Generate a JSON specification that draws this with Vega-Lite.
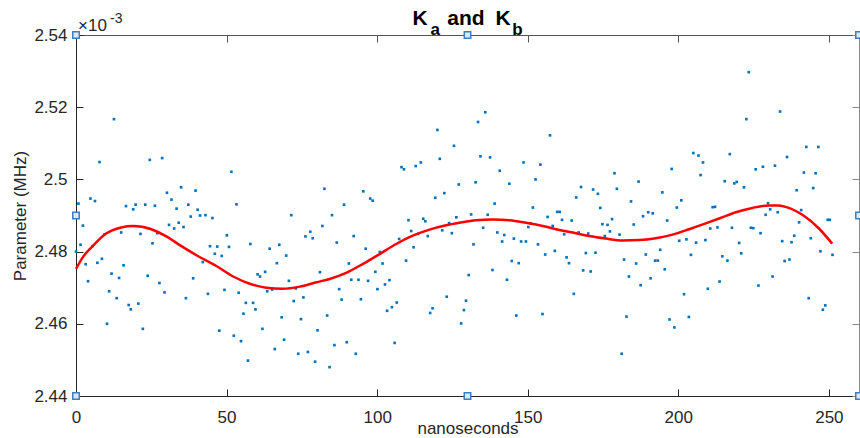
{
  "$schema": "https://vega.github.io/schema/vega-lite/v6.json",
  "width": 783,
  "height": 361,
  "autosize": {"type": "none"},
  "padding": {"left": 76, "top": 35, "right": 1, "bottom": 42},
  "background": "white",
  "config": {
    "view": {"stroke": null},
    "font": "Liberation Sans",
    "axis": {
      "labelFont": "Liberation Sans",
      "titleFont": "Liberation Sans",
      "labelFontSize": 17,
      "titleFontSize": 17,
      "titleFontWeight": "normal",
      "labelColor": "#262626",
      "titleColor": "#262626",
      "domainColor": "#262626",
      "tickColor": "#262626",
      "grid": false,
      "tickSize": -7,
      "domainWidth": 1,
      "tickWidth": 1,
      "labelFlush": false
    }
  },
  "datasets": {
    "obs": [
      {"t":0,"v":2.4800},{"t":0.8,"v":2.4933},{"t":1.5,"v":2.4819},{"t":2.3,"v":2.4872},{"t":3.2,"v":2.4765},{"t":4.0,"v":2.4718},{"t":4.8,"v":2.4947},{"t":5.5,"v":2.4815},{"t":6.3,"v":2.4940},{"t":7.1,"v":2.4769},{"t":7.8,"v":2.5048},{"t":8.6,"v":2.4780},{"t":9.5,"v":2.4848},{"t":10.3,"v":2.4600},{"t":11.0,"v":2.4690},{"t":11.8,"v":2.4739},{"t":12.6,"v":2.5167},{"t":13.5,"v":2.4671},{"t":14.3,"v":2.4727},{"t":15.0,"v":2.4853},{"t":15.8,"v":2.4762},{"t":16.6,"v":2.4926},{"t":17.5,"v":2.4652},{"t":18.2,"v":2.4640},{"t":19.0,"v":2.4917},{"t":19.8,"v":2.4930},{"t":20.7,"v":2.4656},{"t":21.4,"v":2.4849},{"t":22.2,"v":2.4586},{"t":23.0,"v":2.4930},{"t":23.8,"v":2.4733},{"t":24.5,"v":2.5054},{"t":25.4,"v":2.4823},{"t":26.2,"v":2.4927},{"t":27.0,"v":2.4851},{"t":27.7,"v":2.4713},{"t":28.6,"v":2.5059},{"t":29.4,"v":2.4687},{"t":30.2,"v":2.4963},{"t":30.9,"v":2.4874},{"t":31.7,"v":2.4944},{"t":32.6,"v":2.4864},{"t":33.4,"v":2.4919},{"t":34.1,"v":2.4880},{"t":34.9,"v":2.4978},{"t":35.7,"v":2.4868},{"t":36.5,"v":2.4671},{"t":37.3,"v":2.4930},{"t":38.1,"v":2.4897},{"t":38.9,"v":2.4726},{"t":39.7,"v":2.4969},{"t":40.4,"v":2.4916},{"t":41.2,"v":2.4900},
      {"t":42.1,"v":2.4771},{"t":43.0,"v":2.4901},{"t":43.8,"v":2.4683},{"t":44.5,"v":2.4815},{"t":45.3,"v":2.4893},{"t":46.1,"v":2.4794},{"t":46.9,"v":2.4814},{"t":47.6,"v":2.4581},{"t":48.4,"v":2.4788},{"t":49.3,"v":2.4694},{"t":50.1,"v":2.4845},{"t":50.8,"v":2.4813},{"t":51.6,"v":2.5021},{"t":52.4,"v":2.4567},{"t":53.3,"v":2.4931},{"t":54.0,"v":2.4686},{"t":54.8,"v":2.4552},{"t":55.6,"v":2.4628},{"t":56.4,"v":2.4658},{"t":57.1,"v":2.4498},{"t":57.9,"v":2.4821},{"t":58.8,"v":2.4658},{"t":59.6,"v":2.4640},{"t":60.3,"v":2.4737},{"t":61.1,"v":2.4731},{"t":61.9,"v":2.4586},{"t":62.8,"v":2.4744},{"t":63.5,"v":2.4690},{"t":64.3,"v":2.4808},{"t":65.1,"v":2.4695},{"t":66.0,"v":2.4530},{"t":66.7,"v":2.4768},{"t":67.5,"v":2.4819},{"t":68.3,"v":2.4618},{"t":69.1,"v":2.4556},{"t":69.8,"v":2.4789},{"t":70.7,"v":2.4719},{"t":71.5,"v":2.4901},{"t":72.3,"v":2.4663},{"t":73.0,"v":2.4698},{"t":73.8,"v":2.4517},{"t":74.7,"v":2.4613},{"t":75.5,"v":2.4673},{"t":76.2,"v":2.4842},{"t":77.0,"v":2.4522},{"t":77.8,"v":2.4855},{"t":78.6,"v":2.4837},{"t":79.4,"v":2.4495},{"t":80.2,"v":2.4582},{"t":81.0,"v":2.4743},{"t":81.8,"v":2.4871},{"t":82.5,"v":2.4974},{"t":83.4,"v":2.4623},{"t":84.2,"v":2.4480},
      {"t":85.0,"v":2.4901},{"t":85.8,"v":2.4541},{"t":86.6,"v":2.4825},{"t":87.4,"v":2.4696},{"t":88.2,"v":2.4667},{"t":89.0,"v":2.4930},{"t":89.9,"v":2.4549},{"t":90.6,"v":2.4767},{"t":91.4,"v":2.4722},{"t":92.2,"v":2.4843},{"t":92.9,"v":2.4517},{"t":93.8,"v":2.4722},{"t":94.6,"v":2.4668},{"t":95.4,"v":2.4967},{"t":96.2,"v":2.4808},{"t":97.0,"v":2.4719},{"t":97.7,"v":2.4947},{"t":98.5,"v":2.4941},{"t":99.4,"v":2.4744},{"t":100.1,"v":2.4696},{"t":100.9,"v":2.4799},{"t":101.8,"v":2.4767},{"t":102.6,"v":2.4709},{"t":103.3,"v":2.4636},{"t":104.1,"v":2.4721},{"t":104.9,"v":2.4646},{"t":105.8,"v":2.4547},{"t":106.5,"v":2.4659},{"t":107.3,"v":2.4835},{"t":108.1,"v":2.5034},{"t":108.9,"v":2.5028},{"t":109.6,"v":2.4775},{"t":110.4,"v":2.4887},{"t":111.3,"v":2.4857},{"t":112.1,"v":2.4812},{"t":112.8,"v":2.5037},{"t":113.6,"v":2.4849},{"t":114.5,"v":2.5047},{"t":115.3,"v":2.4891},{"t":116.0,"v":2.4884},{"t":116.8,"v":2.4843},{"t":117.6,"v":2.4630},{"t":118.4,"v":2.4643},{"t":119.3,"v":2.4949},{"t":120.0,"v":2.5137},{"t":120.8,"v":2.5057},{"t":121.6,"v":2.4859},{"t":122.3,"v":2.4962},{"t":123.1,"v":2.4675},{"t":123.9,"v":2.4879},{"t":124.8,"v":2.4851},{"t":125.5,"v":2.5093},{"t":126.3,"v":2.4895},{"t":127.1,"v":2.4986},{"t":127.9,"v":2.4601},
      {"t":128.8,"v":2.4638},{"t":129.5,"v":2.4664},{"t":130.4,"v":2.4735},{"t":131.2,"v":2.4903},{"t":132.0,"v":2.4820},{"t":132.7,"v":2.4992},{"t":133.5,"v":2.5159},{"t":134.3,"v":2.5064},{"t":135.2,"v":2.4866},{"t":135.9,"v":2.5186},{"t":136.7,"v":2.4902},{"t":137.5,"v":2.5061},{"t":138.3,"v":2.4749},{"t":139.0,"v":2.4933},{"t":139.9,"v":2.4853},{"t":140.7,"v":2.5024},{"t":141.5,"v":2.4828},{"t":142.2,"v":2.4846},{"t":143.1,"v":2.4722},{"t":143.9,"v":2.4988},{"t":144.7,"v":2.4774},{"t":145.4,"v":2.4836},{"t":146.2,"v":2.4623},{"t":147.0,"v":2.4768},{"t":147.8,"v":2.4828},{"t":148.6,"v":2.5047},{"t":149.4,"v":2.4828},{"t":150.2,"v":2.4868},{"t":151.0,"v":2.4878},{"t":151.7,"v":2.4922},{"t":152.6,"v":2.5000},{"t":153.4,"v":2.4820},{"t":154.2,"v":2.5041},{"t":154.9,"v":2.4627},{"t":155.8,"v":2.4792},{"t":156.6,"v":2.4896},{"t":157.4,"v":2.5122},{"t":158.3,"v":2.4871},{"t":159.0,"v":2.4802},{"t":159.8,"v":2.4910},{"t":160.6,"v":2.4910},{"t":161.4,"v":2.4888},{"t":162.1,"v":2.4848},{"t":162.9,"v":2.4784},{"t":163.7,"v":2.4768},{"t":164.6,"v":2.4886},{"t":165.3,"v":2.4683},{"t":166.1,"v":2.4950},{"t":166.9,"v":2.4853},{"t":167.7,"v":2.4979},{"t":168.4,"v":2.4748},{"t":169.3,"v":2.4796},{"t":170.1,"v":2.4850},{"t":170.9,"v":2.4745},
      {"t":171.7,"v":2.4972},{"t":172.5,"v":2.4797},{"t":173.3,"v":2.4960},{"t":174.1,"v":2.4921},{"t":174.8,"v":2.4876},{"t":175.6,"v":2.4843},{"t":176.5,"v":2.4874},{"t":177.3,"v":2.4856},{"t":178.0,"v":2.4890},{"t":178.8,"v":2.5017},{"t":179.6,"v":2.4974},{"t":180.5,"v":2.4847},{"t":181.2,"v":2.4517},{"t":182.0,"v":2.4778},{"t":182.8,"v":2.4620},{"t":183.6,"v":2.4731},{"t":184.3,"v":2.4939},{"t":185.2,"v":2.4875},{"t":186.0,"v":2.4767},{"t":186.8,"v":2.4994},{"t":187.5,"v":2.4707},{"t":188.3,"v":2.4898},{"t":189.2,"v":2.4792},{"t":190.0,"v":2.4909},{"t":190.8,"v":2.4726},{"t":191.5,"v":2.4906},{"t":192.3,"v":2.4775},{"t":193.2,"v":2.4775},{"t":194.0,"v":2.4805},{"t":194.7,"v":2.4964},{"t":195.5,"v":2.4751},{"t":196.3,"v":2.4886},{"t":197.1,"v":2.4612},{"t":197.8,"v":2.5029},{"t":198.7,"v":2.4590},{"t":199.5,"v":2.4922},{"t":200.3,"v":2.4830},{"t":201.0,"v":2.4942},{"t":201.9,"v":2.4682},{"t":202.7,"v":2.4834},{"t":203.5,"v":2.4619},{"t":204.2,"v":2.4791},{"t":205.0,"v":2.5073},{"t":205.9,"v":2.4825},{"t":206.7,"v":2.5066},{"t":207.4,"v":2.5012},{"t":208.2,"v":2.5047},{"t":209.0,"v":2.4832},{"t":209.8,"v":2.4697},{"t":210.6,"v":2.4864},{"t":211.4,"v":2.4923},{"t":212.2,"v":2.4924},{"t":213.0,"v":2.4867},{"t":213.7,"v":2.4717},
      {"t":214.6,"v":2.4787},{"t":215.4,"v":2.4995},{"t":216.3,"v":2.4775},{"t":217.1,"v":2.5070},{"t":217.8,"v":2.4866},{"t":218.6,"v":2.4989},{"t":219.4,"v":2.4993},{"t":220.2,"v":2.4824},{"t":220.9,"v":2.4795},{"t":221.8,"v":2.4978},{"t":222.6,"v":2.5167},{"t":223.4,"v":2.5297},{"t":224.1,"v":2.4866},{"t":224.9,"v":2.4865},{"t":225.7,"v":2.5028},{"t":226.6,"v":2.4706},{"t":227.3,"v":2.4851},{"t":228.1,"v":2.5035},{"t":229.0,"v":2.4902},{"t":229.8,"v":2.4934},{"t":230.5,"v":2.4917},{"t":231.3,"v":2.4731},{"t":232.1,"v":2.5038},{"t":233.0,"v":2.4909},{"t":233.8,"v":2.5188},{"t":234.5,"v":2.4829},{"t":235.3,"v":2.4774},{"t":236.1,"v":2.5062},{"t":236.9,"v":2.4778},{"t":237.6,"v":2.4826},{"t":238.5,"v":2.4844},{"t":239.3,"v":2.4970},{"t":240.1,"v":2.4881},{"t":240.8,"v":2.4915},{"t":241.7,"v":2.5019},{"t":242.5,"v":2.5090},{"t":243.3,"v":2.4671},{"t":244.0,"v":2.4837},{"t":244.8,"v":2.4976},{"t":245.6,"v":2.5017},{"t":246.5,"v":2.5090},{"t":247.2,"v":2.4801},{"t":248.0,"v":2.4639},{"t":248.8,"v":2.4651},{"t":249.6,"v":2.4888},{"t":250.3,"v":2.4888},{"t":251.2,"v":2.4791}
    ],
    "fit": [
      {"t":0,"v":2.4752},{"t":2.4,"v":2.4786},{"t":5.5,"v":2.4815},{"t":10,"v":2.4850},{"t":15,"v":2.4867},{"t":19,"v":2.4871},{"t":25,"v":2.4862},{"t":30,"v":2.4842},{"t":35,"v":2.4815},{"t":40,"v":2.4790},{"t":46.6,"v":2.4760},{"t":52.2,"v":2.4731},{"t":57.7,"v":2.4711},{"t":63.2,"v":2.4700},{"t":68.7,"v":2.4697},{"t":74.3,"v":2.4703},{"t":79.8,"v":2.4715},{"t":84.2,"v":2.4724},{"t":89.7,"v":2.4741},{"t":95.3,"v":2.4766},{"t":100.8,"v":2.4793},{"t":106.3,"v":2.4821},{"t":111.8,"v":2.4844},{"t":117.4,"v":2.4861},{"t":122.9,"v":2.4873},{"t":127.3,"v":2.4880},{"t":132.8,"v":2.4887},{"t":138.4,"v":2.4889},{"t":143.9,"v":2.4887},{"t":149.4,"v":2.4880},{"t":155,"v":2.4871},{"t":160.5,"v":2.4860},{"t":166,"v":2.4851},{"t":170.4,"v":2.4843},{"t":175.9,"v":2.4836},{"t":181.5,"v":2.4831},{"t":187,"v":2.4832},{"t":192.5,"v":2.4837},{"t":198.1,"v":2.4847},{"t":203.6,"v":2.4862},{"t":209.1,"v":2.4878},{"t":214,"v":2.4893},{"t":219.1,"v":2.4909},{"t":224.6,"v":2.4921},{"t":230.1,"v":2.4928},{"t":232.9,"v":2.4928},{"t":235.6,"v":2.4924},{"t":241.2,"v":2.4902},{"t":246.7,"v":2.4864},{"t":251.1,"v":2.4822}
    ],
    "handles": [
      {"t":0,"v":2.54},{"t":0,"v":2.49},{"t":0,"v":2.44},{"t":130,"v":2.54},{"t":130,"v":2.44},{"t":260,"v":2.54},{"t":260,"v":2.49},{"t":260,"v":2.44}
    ]
  },
  "layer": [
    {
      "data": {"name": "obs"},
      "mark": {"type": "square", "size": 7, "color": "#0072BD", "opacity": 1},
      "encoding": {
        "x": {"field": "t", "type": "quantitative", "scale": {"domain": [0, 260], "nice": false, "zero": false},
              "axis": {"orient": "bottom", "values": [0, 50, 100, 150, 200, 250], "title": "nanoseconds", "labelPadding": 20, "titlePadding": -5}},
        "y": {"field": "v", "type": "quantitative", "scale": {"domain": [2.44, 2.54], "nice": false, "zero": false},
              "axis": {"orient": "left", "values": [2.44, 2.46, 2.48, 2.5, 2.52, 2.54], "format": ".3~g", "title": "Parameter (MHz)", "labelPadding": 16, "titlePadding": 4}}
      }
    },
    {
      "data": {"name": "fit"},
      "mark": {"type": "line", "color": "#FF0000", "strokeWidth": 2.5, "interpolate": "monotone"},
      "encoding": {
        "x": {"field": "t", "type": "quantitative", "scale": {"domain": [0, 260], "nice": false, "zero": false},
              "axis": {"orient": "top", "values": [0, 50, 100, 150, 200, 250], "labels": false, "title": null, "domainColor": "#555555", "tickColor": "#555555"}},
        "y": {"field": "v", "type": "quantitative", "scale": {"domain": [2.44, 2.54], "nice": false, "zero": false},
              "axis": {"orient": "right", "values": [2.44, 2.46, 2.48, 2.5, 2.52, 2.54], "labels": false, "title": null, "domainColor": "#888888", "tickColor": "#888888"}}
      }
    },
    {
      "data": {"name": "handles"},
      "mark": {"type": "square", "size": 42, "filled": true, "fill": "#dbe8f4", "stroke": "#3f7fbf", "strokeWidth": 1.5, "opacity": 1},
      "encoding": {
        "x": {"field": "t", "type": "quantitative", "scale": {"domain": [0, 260], "nice": false, "zero": false}, "axis": null},
        "y": {"field": "v", "type": "quantitative", "scale": {"domain": [2.44, 2.54], "nice": false, "zero": false}, "axis": null}
      }
    },
    {
      "data": {"values": [{}]},
      "mark": {"type": "text", "text": "K", "fontSize": 21, "fontWeight": "bold", "align": "left", "baseline": "alphabetic", "color": "#000000"},
      "encoding": {
        "x": {"datum": 111.7, "type": "quantitative", "scale": {"domain": [0, 260], "nice": false, "zero": false}, "axis": null},
        "y": {"datum": 2.5428, "type": "quantitative", "scale": {"domain": [2.44, 2.54], "nice": false, "zero": false}, "axis": null}
      }
    },
    {
      "data": {"values": [{}]},
      "mark": {"type": "text", "text": "a", "fontSize": 17, "fontWeight": "bold", "align": "left", "baseline": "alphabetic", "color": "#000000"},
      "encoding": {
        "x": {"datum": 117.7, "type": "quantitative", "scale": {"domain": [0, 260], "nice": false, "zero": false}, "axis": null},
        "y": {"datum": 2.5401, "type": "quantitative", "scale": {"domain": [2.44, 2.54], "nice": false, "zero": false}, "axis": null}
      }
    },
    {
      "data": {"values": [{}]},
      "mark": {"type": "text", "text": "and", "fontSize": 21, "fontWeight": "bold", "align": "left", "baseline": "alphabetic", "color": "#000000"},
      "encoding": {
        "x": {"datum": 123.3, "type": "quantitative", "scale": {"domain": [0, 260], "nice": false, "zero": false}, "axis": null},
        "y": {"datum": 2.5428, "type": "quantitative", "scale": {"domain": [2.44, 2.54], "nice": false, "zero": false}, "axis": null}
      }
    },
    {
      "data": {"values": [{}]},
      "mark": {"type": "text", "text": "K", "fontSize": 21, "fontWeight": "bold", "align": "left", "baseline": "alphabetic", "color": "#000000"},
      "encoding": {
        "x": {"datum": 139.3, "type": "quantitative", "scale": {"domain": [0, 260], "nice": false, "zero": false}, "axis": null},
        "y": {"datum": 2.5428, "type": "quantitative", "scale": {"domain": [2.44, 2.54], "nice": false, "zero": false}, "axis": null}
      }
    },
    {
      "data": {"values": [{}]},
      "mark": {"type": "text", "text": "b", "fontSize": 17, "fontWeight": "bold", "align": "left", "baseline": "alphabetic", "color": "#000000"},
      "encoding": {
        "x": {"datum": 144.9, "type": "quantitative", "scale": {"domain": [0, 260], "nice": false, "zero": false}, "axis": null},
        "y": {"datum": 2.5401, "type": "quantitative", "scale": {"domain": [2.44, 2.54], "nice": false, "zero": false}, "axis": null}
      }
    },
    {
      "data": {"values": [{}]},
      "mark": {"type": "text", "text": "×10", "fontSize": 17, "align": "left", "baseline": "alphabetic", "color": "#262626"},
      "encoding": {
        "x": {"datum": 0.7, "type": "quantitative", "scale": {"domain": [0, 260], "nice": false, "zero": false}, "axis": null},
        "y": {"datum": 2.5411, "type": "quantitative", "scale": {"domain": [2.44, 2.54], "nice": false, "zero": false}, "axis": null}
      }
    },
    {
      "data": {"values": [{}]},
      "mark": {"type": "text", "text": "-3", "fontSize": 14, "align": "left", "baseline": "alphabetic", "color": "#262626"},
      "encoding": {
        "x": {"datum": 11.3, "type": "quantitative", "scale": {"domain": [0, 260], "nice": false, "zero": false}, "axis": null},
        "y": {"datum": 2.5434, "type": "quantitative", "scale": {"domain": [2.44, 2.54], "nice": false, "zero": false}, "axis": null}
      }
    }
  ],
  "resolve": {"axis": {"x": "independent", "y": "independent"}}
}
